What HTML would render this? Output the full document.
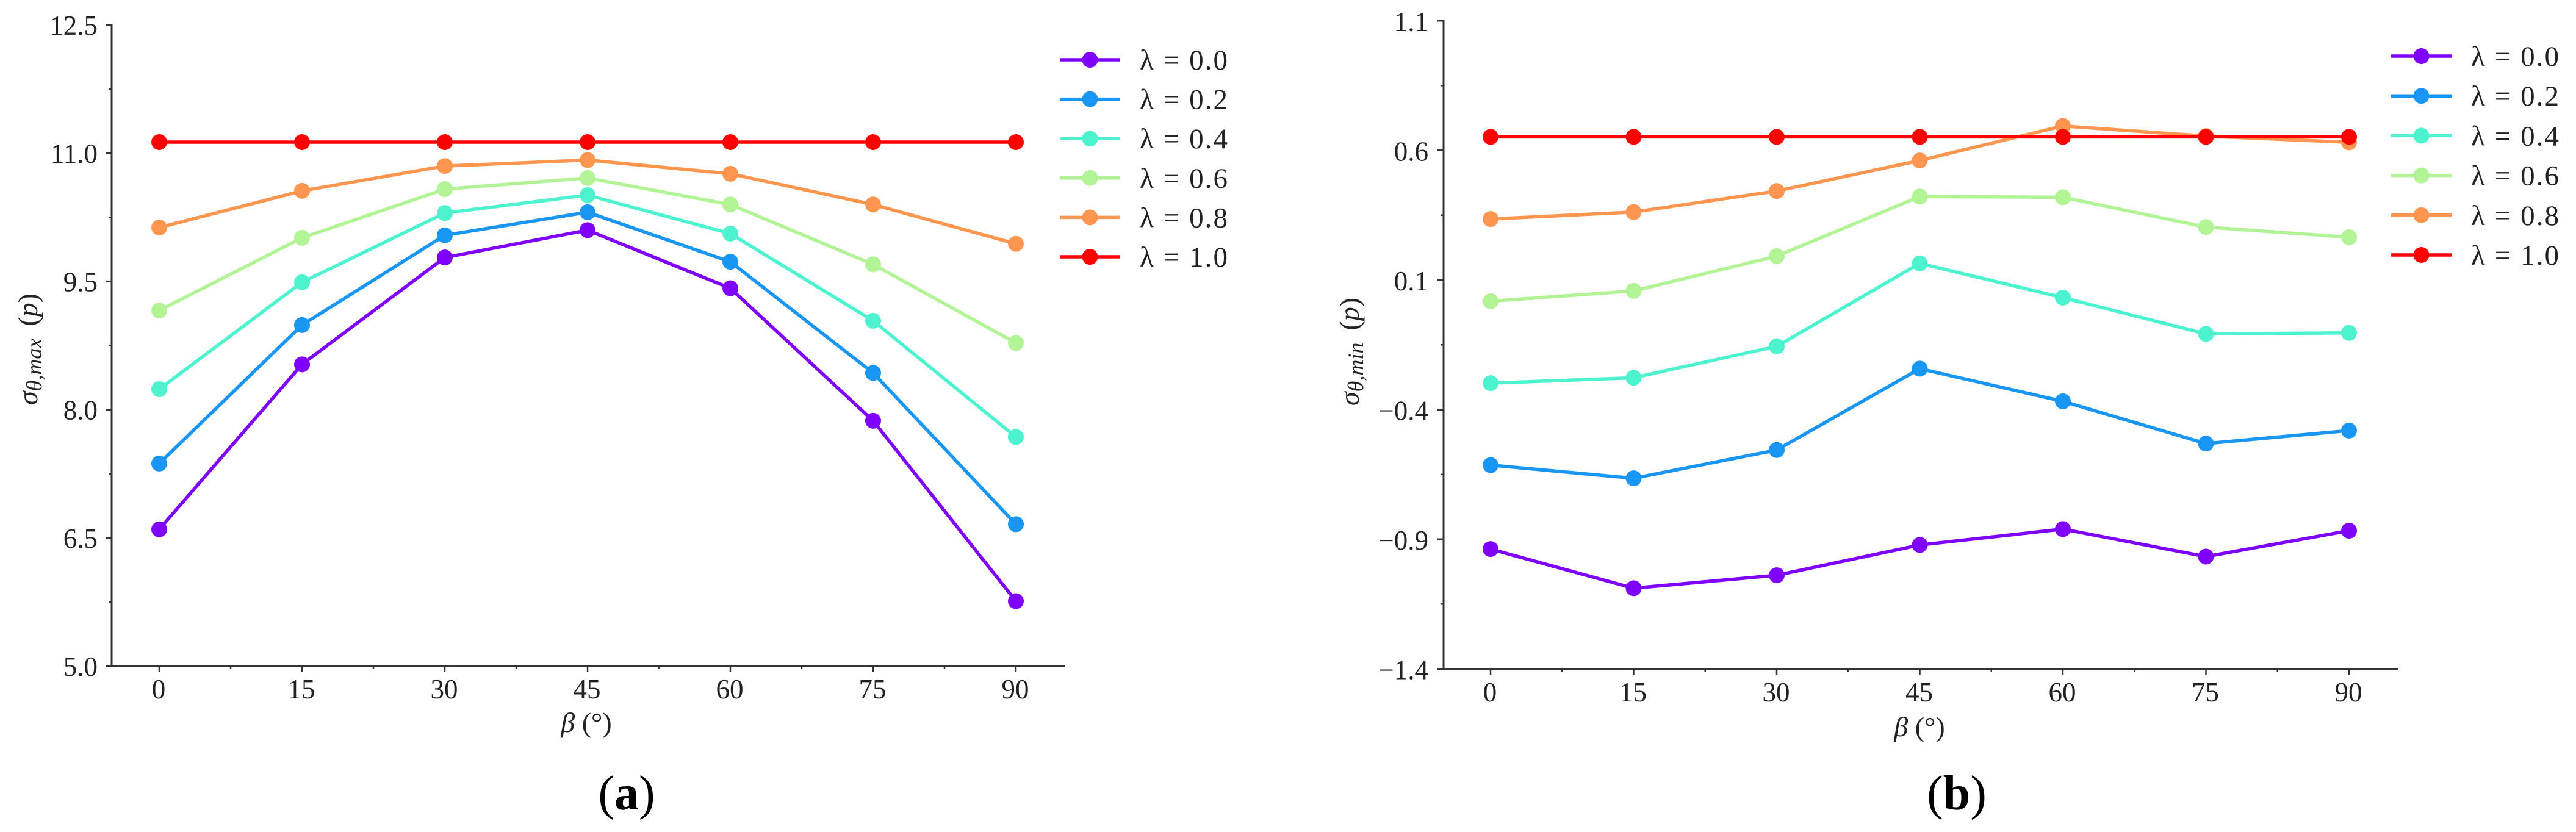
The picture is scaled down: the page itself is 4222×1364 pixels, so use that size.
<!DOCTYPE html>
<html lang="en">
<head>
<meta charset="utf-8">
<title>Stress charts</title>
<style>
html,body{margin:0;padding:0;background:#fff;width:4222px;height:1364px;overflow:hidden}
svg{display:block}
text{font-family:"Liberation Serif","DejaVu Serif",serif;fill:#222}
</style>
</head>
<body>
<svg id="figure" xmlns="http://www.w3.org/2000/svg" width="4222" height="1364" viewBox="0 0 4222 1364">
  <rect width="4222" height="1364" fill="#ffffff"/>
  <g id="panel-a"></g>
  <g id="panel-b"></g>
  <text transform="translate(61,664) rotate(-90)" font-size="46"><tspan font-style="italic">σ</tspan><tspan font-style="italic" font-size="36" dy="7">θ,max</tspan><tspan dy="-7" dx="20">(</tspan><tspan font-style="italic">p</tspan><tspan>)</tspan></text>
  <text transform="translate(2227,665) rotate(-90)" font-size="46"><tspan font-style="italic">σ</tspan><tspan font-style="italic" font-size="36" dy="7">θ,min</tspan><tspan dy="-7" dx="20">(</tspan><tspan font-style="italic">p</tspan><tspan>)</tspan></text>
  <text x="961" y="1200" font-size="46" text-anchor="middle"><tspan font-style="italic">β</tspan> (°)</text>
  <text x="3146" y="1207" font-size="46" text-anchor="middle"><tspan font-style="italic">β</tspan> (°)</text>
  <text x="1027" y="1327" font-size="80" text-anchor="middle" style="fill:#000">(<tspan font-weight="bold">a</tspan>)</text>
  <text x="3207" y="1327" font-size="80" text-anchor="middle" style="fill:#000">(<tspan font-weight="bold">b</tspan>)</text>
</svg>
<script>
const categories = [0, 15, 30, 45, 60, 75, 90];
const xTickLabels = ['0', '15', '30', '45', '60', '75', '90'];
const legendLabels = ['λ = 0.0', 'λ = 0.2', 'λ = 0.4', 'λ = 0.6', 'λ = 0.8', 'λ = 1.0'];
const seriesKeys = ['00', '02', '04', '06', '08', '10'];
const seriesColors = ['#8000ff', '#1996f3', '#4df3ce', '#b2f396', '#ff964f', '#ff0000'];

const yTicksA = [5.0, 6.5, 8.0, 9.5, 11.0, 12.5];
const yTickLabelsA = ['5.0', '6.5', '8.0', '9.5', '11.0', '12.5'];
const maxLambda00 = [6.60, 8.53, 9.78, 10.10, 9.42, 7.87, 5.76];
const maxLambda02 = [7.37, 8.99, 10.04, 10.31, 9.73, 8.43, 6.66];
const maxLambda04 = [8.24, 9.49, 10.30, 10.51, 10.06, 9.04, 7.68];
const maxLambda06 = [9.16, 10.01, 10.58, 10.71, 10.40, 9.70, 8.78];
const maxLambda08 = [10.13, 10.56, 10.85, 10.92, 10.76, 10.40, 9.94];
const maxLambda10 = [11.13, 11.13, 11.13, 11.13, 11.13, 11.13, 11.13];

const yTicksB = [-1.4, -0.9, -0.4, 0.1, 0.6, 1.1];
const yTickLabelsB = ['−1.4', '−0.9', '−0.4', '0.1', '0.6', '1.1'];
const minLambda00 = [-0.938, -1.089, -1.039, -0.922, -0.861, -0.967, -0.867];
const minLambda02 = [-0.614, -0.665, -0.556, -0.242, -0.368, -0.531, -0.481];
const minLambda04 = [-0.298, -0.277, -0.156, 0.164, 0.032, -0.108, -0.104];
const minLambda06 = [0.018, 0.058, 0.192, 0.422, 0.419, 0.304, 0.265];
const minLambda08 = [0.335, 0.362, 0.443, 0.561, 0.694, 0.655, 0.631];
const minLambda10 = [0.652, 0.652, 0.652, 0.652, 0.652, 0.652, 0.652];

const SVG_NS = 'http://www.w3.org/2000/svg';
const AXIS_COLOR = '#333333';

function scale(d0, d1, r0, r1) {
  return function (v) { return r0 + (v - d0) * (r1 - r0) / (d1 - d0); };
}

function make(tag, parent) {
  const el = document.createElementNS(SVG_NS, tag);
  parent.appendChild(el);
  return el;
}

function setLine(el, x1, y1, x2, y2, color, width) {
  el.setAttribute('x1', x1);
  el.setAttribute('y1', y1);
  el.setAttribute('x2', x2);
  el.setAttribute('y2', y2);
  el.setAttribute('stroke', color);
  el.setAttribute('stroke-width', width);
}

function drawPanel(cfg) {
  const root = document.getElementById(cfg.id);
  const x = scale(categories[0], categories[categories.length - 1], cfg.x0, cfg.x1);
  const y = scale(cfg.yTicks[0], cfg.yTicks[cfg.yTicks.length - 1], cfg.yBottom, cfg.yTop);

  const yAxis = make('line', root);
  
  
  setLine(yAxis, cfg.axisX, cfg.yTop - 1.5, cfg.axisX, cfg.yBottom + 1.5, AXIS_COLOR, 3);

  const xAxis = make('line', root);
  
  
  setLine(xAxis, cfg.axisX, cfg.yBottom, cfg.axisEnd, cfg.yBottom, AXIS_COLOR, 3);

  cfg.yTicks.forEach(function (tick, i) {
    const py = y(tick);
    const mark = make('line', root);
    
    
    setLine(mark, cfg.axisX - 10, py, cfg.axisX, py, AXIS_COLOR, 3);

    const label = make('text', root);
    
    
    label.setAttribute('x', cfg.yLabelX);
    label.setAttribute('y', py + cfg.yLabelDy);
    label.setAttribute('font-size', '45');
    label.setAttribute('text-anchor', 'end');
    label.textContent = cfg.yTickLabels[i];

    if (i < cfg.yTicks.length - 1) {
      const minorY = y((tick + cfg.yTicks[i + 1]) / 2);
      const minor = make('line', root);
      
      
      setLine(minor, cfg.axisX - 5, minorY, cfg.axisX, minorY, AXIS_COLOR, 2.5);
    }
  });

  categories.forEach(function (cat, i) {
    const px = x(cat);
    const mark = make('line', root);
    
    
    setLine(mark, px, cfg.yBottom, px, cfg.yBottom + 10, AXIS_COLOR, 2.5);

    const label = make('text', root);
    
    
    label.setAttribute('x', px - 1);
    label.setAttribute('y', cfg.xLabelY);
    label.setAttribute('font-size', '45');
    label.setAttribute('text-anchor', 'middle');
    label.textContent = xTickLabels[i];

    if (i < categories.length - 1) {
      const minorX = x((cat + categories[i + 1]) / 2);
      const minor = make('line', root);
      
      
      setLine(minor, minorX, cfg.yBottom, minorX, cfg.yBottom + 5, AXIS_COLOR, 2.5);
    }
  });

  cfg.series.forEach(function (values, s) {
    const color = seriesColors[s];
    const group = make('g', root);
    
    

    const path = make('polyline', group);
    
    
    path.setAttribute('fill', 'none');
    path.setAttribute('stroke', color);
    path.setAttribute('stroke-width', '5.5');
    path.setAttribute('stroke-linejoin', 'round');
    path.setAttribute('points', values.map(function (v, i) {
      return x(categories[i]).toFixed(1) + ',' + y(v).toFixed(1);
    }).join(' '));

    values.forEach(function (v, i) {
      const dot = make('circle', group);
      
      
      dot.setAttribute('cx', x(categories[i]));
      dot.setAttribute('cy', y(v));
      dot.setAttribute('r', '13');
      dot.setAttribute('fill', color);
    });
  });

  const legend = make('g', root);
  
  
  legendLabels.forEach(function (text, i) {
    const ly = cfg.legendY + i * cfg.legendStep;
    const entry = make('g', legend);
    
    

    const swatch = make('line', entry);
    
    
    setLine(swatch, cfg.legendX, ly, cfg.legendX + 99, ly, seriesColors[i], 5.5);

    const dot = make('circle', entry);
    
    
    dot.setAttribute('cx', cfg.legendX + 49.5);
    dot.setAttribute('cy', ly);
    dot.setAttribute('r', '13');
    dot.setAttribute('fill', seriesColors[i]);

    const label = make('text', entry);
    
    
    label.setAttribute('x', cfg.legendX + 131);
    label.setAttribute('y', ly + 16);
    label.setAttribute('font-size', '47');
    label.setAttribute('textLength', '144');
    label.setAttribute('lengthAdjust', 'spacing');
    label.textContent = text;
  });
}

drawPanel({
  id: 'panel-a',
  series: [maxLambda00, maxLambda02, maxLambda04, maxLambda06, maxLambda08, maxLambda10],
  yTicks: yTicksA,
  yTickLabels: yTickLabelsA,
  x0: 261, x1: 1665, yBottom: 1092, yTop: 41,
  axisX: 183, axisEnd: 1745,
  yLabelX: 160, yLabelDy: 16, xLabelY: 1145,
  legendX: 1737, legendY: 98, legendStep: 64.6
});

drawPanel({
  id: 'panel-b',
  series: [minLambda00, minLambda02, minLambda04, minLambda06, minLambda08, minLambda10],
  yTicks: yTicksB,
  yTickLabels: yTickLabelsB,
  x0: 2443, x1: 3850, yBottom: 1096.5, yTop: 34,
  axisX: 2366, axisEnd: 3930,
  yLabelX: 2341, yLabelDy: 17, xLabelY: 1150,
  legendX: 3919, legendY: 92, legendStep: 65.2
});
</script>
</body>
</html>
